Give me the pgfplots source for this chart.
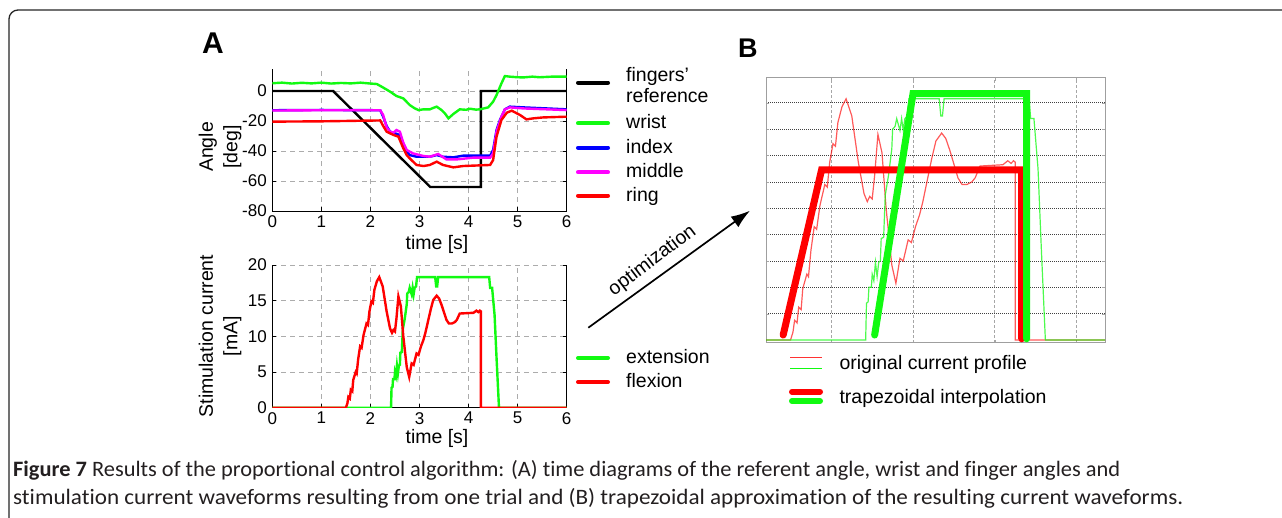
\documentclass[border=0pt]{standalone}
\usepackage{fontspec}
\setmainfont{Liberation Sans}
\newfontfamily\capfont[Ligatures={NoCommon,NoDiscretionary,NoContextual}]{Carlito}
\usepackage{graphicx}
\usepackage{pgfplots}
\usepackage{pgfplotstable}
\pgfplotsset{compat=1.18}
\usetikzlibrary{arrows.meta}
\definecolor{mgreen}{RGB}{17,250,17}
\definecolor{mred}{RGB}{255,0,0}
\definecolor{mblue}{RGB}{0,0,255}
\definecolor{mmag}{RGB}{255,0,255}
\definecolor{captxt}{RGB}{35,31,32}

\pgfplotstableread{
t v
0 0
1.50 0
1.53 0.6
1.55 1.5
1.58 1.3
1.60 2.5
1.63 2.3
1.65 3.9
1.70 5.0
1.72 4.8
1.75 6.8
1.79 8.6
1.82 8.4
1.86 10.2
1.92 11.8
1.95 11.6
1.98 13.5
2.02 14.9
2.05 14.7
2.08 16.5
2.13 17.7
2.18 18.3
2.25 17.0
2.33 13.5
2.40 11.1
2.44 10.5
2.47 10.9
2.50 10.7
2.53 12.5
2.57 15.6
2.62 14.2
2.67 10.0
2.74 5.7
2.79 4.3
2.84 6.2
2.88 6.0
2.94 7.6
2.98 7.4
3.03 8.6
3.08 9.5
3.12 10.5
3.18 12.3
3.23 13.8
3.28 15.1
3.35 15.7
3.40 15.3
3.45 14.4
3.55 12.3
3.60 11.8
3.66 11.8
3.72 12.0
3.76 12.3
3.82 13.2
4.10 13.3
4.16 13.6
4.20 13.4
4.23 13.6
4.25 13.5
4.251 0
6 0
}\flexion

\pgfplotstableread{
t v
0 0
2.42 0
2.43 2.8
2.45 2.9
2.46 4.0
2.49 4.0
2.50 5.0
2.52 4.5
2.54 5.9
2.56 4.8
2.58 5.9
2.60 6.0
2.61 7.7
2.64 7.8
2.66 11.0
2.70 12.5
2.74 14.5
2.75 16.0
2.78 16.2
2.80 16.8
2.84 15.9
2.86 16.8
2.88 15.9
2.90 16.8
2.93 17.0
2.95 18.3
3.32 18.3
3.34 17.0
3.36 17.0
3.38 18.3
4.42 18.3
4.44 16.8
4.48 16.8
4.53 13.0
4.57 7.0
4.62 0
6 0
}\extension

\pgfplotsset{
  panelA/.style={
    scale only axis, anchor=north west, width=294.4pt,
    xmin=0, xmax=6, xtick={0,...,6},
    axis x line*=bottom, axis y line*=box,
    axis line style={black, line width=0.8pt},
    tick align=inside, major tick length=4pt,
    tick style={black, line width=0.6pt},
    grid=major,
    major grid style={gray!65, dash pattern=on 5pt off 4pt, line width=0.6pt},
    tick label style={font=\fontsize{17}{17}\selectfont},
    xticklabel style={yshift=-1pt},
    yticklabel style={xshift=-2pt},
    /pgf/number format/assume math mode=true,
  },
}

\begin{document}
\begin{tikzpicture}
\useasboundingbox (0,0) rectangle (1282pt,-517pt);
\clip (0,0) rectangle (1282pt,-517pt);
\fill[white] (0,0) rectangle (1282pt,-517pt);

% frame
\draw[line width=1.3pt, black!85, rounded corners=9pt] (9pt,-540pt) -- (9pt,-10pt) -- (1310pt,-10pt);

% ---------------- Panel A top ----------------
\begin{axis}[panelA, at={(272.3pt,-69.3pt)}, height=141.7pt,
  ymin=-80, ymax=14.5, ytick={-80,-60,-40,-20,0}]
\addplot[black, line width=2.4pt] coordinates {(0,0) (1.24,0) (3.22,-64) (4.25,-64) (4.25,0) (6,0)};
\addplot[mgreen, line width=2.4pt] coordinates {
(0,5.2) (0.2,5.6) (0.4,5.0) (0.6,5.5) (0.8,5.1) (1.0,5.6) (1.2,5.0) (1.4,5.4) (1.6,5.1) (1.8,5.6) (2.0,5.0)
(2.13,4.7) (2.25,2.5) (2.4,-0.4) (2.53,-3.3) (2.67,-4.9) (2.8,-9.3) (2.9,-11.5) (2.98,-12.7) (3.08,-12.2)
(3.21,-12.2) (3.3,-11.0) (3.35,-10.4) (3.45,-12.7) (3.52,-15) (3.59,-18.2) (3.69,-15.3) (3.82,-12.2)
(3.95,-12.5) (4.03,-11.8) (4.15,-12.4) (4.23,-12.2) (4.4,-10.9) (4.5,-7.1) (4.57,-2.7) (4.67,5.1)
(4.74,10) (4.84,9.6) (5.0,9.2) (5.12,9.1) (5.3,9.6) (5.45,9.2) (5.7,9.6) (6,9.6)};
\addplot[mblue, line width=2.4pt] coordinates {
(0,-12.8) (1,-12.6) (2.2,-12.8) (2.26,-17.1) (2.33,-23.3) (2.4,-27.1) (2.5,-28.2) (2.6,-29.3) (2.67,-34.9)
(2.74,-40.4) (2.8,-42.7) (2.94,-43.8) (3.21,-43.8) (3.35,-42.7) (3.48,-43.8) (3.69,-44.2) (3.89,-43.1)
(4.44,-43.1) (4.5,-39.3) (4.57,-26) (4.64,-19.3) (4.74,-12.2) (4.84,-10.4) (5.12,-10.9) (6,-12.2)};
\addplot[mmag, line width=2.4pt] coordinates {
(0,-13) (1,-12.8) (2.2,-12.8) (2.26,-16) (2.33,-24.2) (2.4,-27.1) (2.47,-27.8) (2.53,-26) (2.6,-27.1)
(2.67,-34.5) (2.74,-39.3) (2.87,-41.6) (3.08,-43.3) (3.21,-43.8) (3.38,-42) (3.55,-45.6) (3.76,-45.6)
(4.1,-44.4) (4.44,-44.4) (4.5,-41.6) (4.57,-27.1) (4.67,-17.1) (4.74,-12.2) (4.84,-10.9) (5.12,-11.6) (6,-12.7)};
\addplot[mred, line width=2.4pt] coordinates {
(0,-20.4) (1,-20.2) (2.2,-19.6) (2.26,-23.3) (2.33,-27.1) (2.47,-29.3) (2.57,-30.4) (2.67,-38.2)
(2.74,-42.7) (2.8,-44.9) (2.94,-49.3) (3.08,-50) (3.21,-49.3) (3.35,-47.1) (3.48,-49.3) (3.69,-50.9)
(3.89,-50) (4.44,-49.3) (4.5,-46) (4.57,-30.4) (4.67,-19.3) (4.78,-14.4) (4.88,-13.1) (5.05,-16)
(5.18,-18.9) (5.32,-18.2) (5.52,-17.6) (6,-17.1)};
\end{axis}

% ---------------- Panel A bottom ----------------
\begin{axis}[panelA, at={(272.3pt,-265pt)}, height=142.7pt,
  ymin=0, ymax=20, ytick={0,5,10,15,20}]
\addplot[mgreen, line width=2.4pt] table[x=t,y=v] {\extension};
\addplot[mred, line width=2.4pt] table[x=t,y=v] {\flexion};
\end{axis}

% ---------------- Panel B ----------------
\begin{axis}[at={(766pt,-77.7pt)}, anchor=north west, scale only axis,
  width=339pt, height=265pt,
  xmin=1.2, xmax=5.35, ymin=-0.2, ymax=19.9,
  xtick={2,3,4,5}, ytick={2,4,...,18},
  xticklabels={}, yticklabels={},
  tick align=inside, major tick length=3pt, tick style={gray!70},
  axis line style={gray!75, line width=0.8pt},
  xmajorgrids, ymajorgrids,
  x grid style={gray!70, dash pattern=on 3pt off 2pt, line width=0.6pt},
  y grid style={black!75, dash pattern=on 1pt off 1pt, line width=0.7pt}]
\addplot[mred, opacity=0.65, line width=1.2pt] table[x=t,y=v] {\flexion};
\addplot[mgreen, opacity=0.75, line width=1.2pt] table[x=t,y=v] {\extension};
\addplot[mred, line width=7pt, line cap=round] coordinates {(1.41,0.38) (1.88,12.9) (4.33,12.9) (4.33,0.1)};
\addplot[mgreen, line width=7pt, line cap=round] coordinates {(2.53,0.38) (3.0,18.7) (4.39,18.7) (4.39,0.1)};
\end{axis}

% ---------------- labels ----------------
\node[anchor=base west, inner sep=0, font=\bfseries\fontsize{30}{30}\selectfont] at (202pt,-53.5pt) {A};
\node[anchor=base west, inner sep=0, font=\bfseries\fontsize{27}{27}\selectfont] at (738pt,-57.5pt) {B};

\node[rotate=90, align=center, font=\fontsize{19.5}{24.5}\selectfont] at (220pt,-147pt) {Angle\\{[deg]}};
\node[rotate=90, align=center, font=\fontsize{19.5}{24.5}\selectfont] at (220pt,-336pt) {Stimulation current\\{[mA]}};
\node[font=\fontsize{19.5}{19.5}\selectfont] at (437pt,-244pt) {time [s]};
\node[font=\fontsize{19.5}{19.5}\selectfont] at (437pt,-438pt) {time [s]};

% legend A top
\foreach \y/\c in {82.7/black,123.3/mgreen,147.7/mblue,172.3/mmag,195.7/mred}{
  \draw[\c, line width=4pt, line cap=round] (578pt,-\y pt) -- (608pt,-\y pt);
}
\node[anchor=base west, inner sep=0, font=\fontsize{19.5}{22}\selectfont] at (626pt,-81pt) {fingers'};
\node[anchor=base west, inner sep=0, font=\fontsize{19.5}{22}\selectfont] at (626pt,-102pt) {reference};
\node[anchor=base west, inner sep=0, font=\fontsize{19.5}{22}\selectfont] at (626pt,-128.8pt) {wrist};
\node[anchor=base west, inner sep=0, font=\fontsize{19.5}{22}\selectfont] at (626pt,-153.2pt) {index};
\node[anchor=base west, inner sep=0, font=\fontsize{19.5}{22}\selectfont] at (626pt,-177.8pt) {middle};
\node[anchor=base west, inner sep=0, font=\fontsize{19.5}{22}\selectfont] at (626pt,-201.2pt) {ring};

% legend A bottom
\draw[mgreen, line width=4pt, line cap=round] (578pt,-358pt) -- (608pt,-358pt);
\draw[mred, line width=4pt, line cap=round] (578pt,-382pt) -- (608pt,-382pt);
\node[anchor=base west, inner sep=0, font=\fontsize{19.5}{22}\selectfont] at (626pt,-363.5pt) {extension};
\node[anchor=base west, inner sep=0, font=\fontsize{19.5}{22}\selectfont] at (626pt,-387.5pt) {flexion};

% legend B
\draw[mred, opacity=0.8, line width=1.4pt] (790pt,-357.3pt) -- (821.7pt,-357.3pt);
\draw[mgreen, line width=1.4pt] (790pt,-368.3pt) -- (821.7pt,-368.3pt);
\draw[mred, line width=6pt, line cap=round] (792pt,-391.7pt) -- (820pt,-391.7pt);
\draw[mgreen, line width=6pt, line cap=round] (792pt,-401pt) -- (820pt,-401pt);
\node[anchor=base west, inner sep=0, font=\fontsize{19.5}{22}\selectfont] at (839.3pt,-369.3pt) {original current profile};
\node[anchor=base west, inner sep=0, font=\fontsize{19.5}{22}\selectfont] at (839.3pt,-403.3pt) {trapezoidal interpolation};

% optimization arrow
\draw[-{Latex[length=19pt,width=13pt]}, line width=1.7pt] (588.3pt,-327.7pt) -- (750pt,-210.7pt);
\node[rotate=37, inner sep=1pt, font=\fontsize{19.5}{22}\selectfont] at (652.5pt,-260.8pt) {optimization};

% caption
\node[anchor=base west, inner sep=0, text=captxt] at (13pt,-476pt)
  {\resizebox{1107pt}{\height}{\capfont\fontsize{22}{24}\selectfont\textbf{Figure 7} Results of the proportional control algorithm: (A) time diagrams of the referent angle, wrist and finger angles and}};
\node[anchor=base west, inner sep=0, text=captxt] at (13pt,-504pt)
  {\resizebox{1170pt}{\height}{\capfont\fontsize{22}{24}\selectfont stimulation current waveforms resulting from one trial and (B) trapezoidal approximation of the resulting current waveforms.}};
\end{tikzpicture}
\end{document}
